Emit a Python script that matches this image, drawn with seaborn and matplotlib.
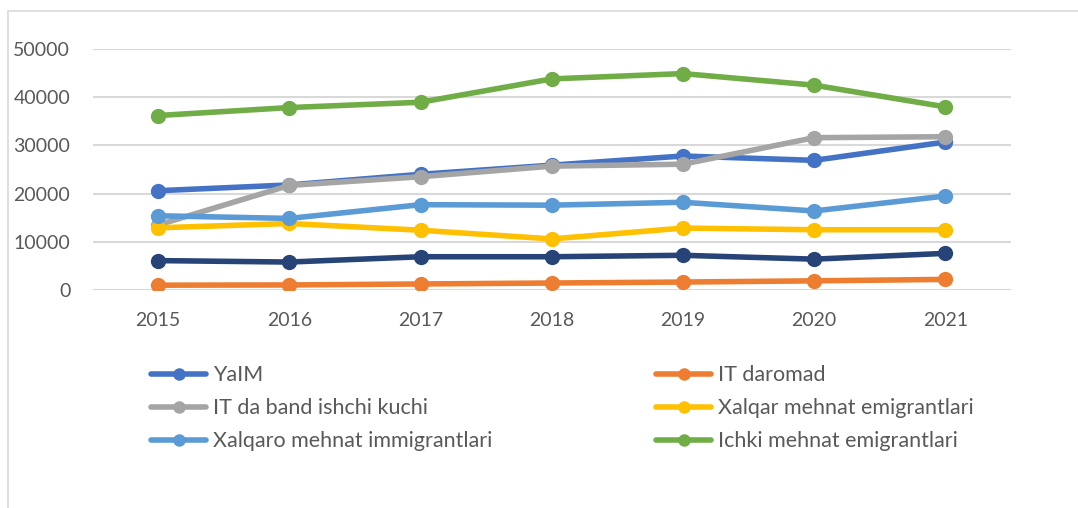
import pandas as pd
import seaborn as sns
import matplotlib.pyplot as plt
from matplotlib.patches import Rectangle

# values
years = [2015, 2016, 2017, 2018, 2019, 2020, 2021]
yalm = [20600, 21800, 24000, 25900, 27800, 26900, 30700]
it_daromad = [1000, 1050, 1250, 1450, 1650, 1900, 2200]
it_band = [13500, 21700, 23500, 25700, 26100, 31600, 31800]
xalqar_emig = [12900, 13800, 12400, 10600, 12850, 12500, 12500]
xalqaro_immig = [15400, 14850, 17700, 17600, 18200, 16400, 19500]
ichki_emig = [36200, 37850, 38950, 43800, 44900, 42500, 38000]
other = [6100, 5800, 6900, 6900, 7200, 6400, 7600]  # unlabeled dark series

series_names = ['YaIM', 'IT daromad', 'IT da band ishchi kuchi',
                'Xalqar mehnat emigrantlari', 'Xalqaro mehnat immigrantlari',
                'Ichki mehnat emigrantlari', '_other']
series_vals = [yalm, it_daromad, it_band, xalqar_emig, xalqaro_immig, ichki_emig, other]
colors = ['#4472C4', '#ED7D31', '#A5A5A5', '#FFC000', '#5B9BD5', '#70AD47', '#264478']

df = pd.DataFrame([
    {'year': y, 'value': v, 'series': name}
    for name, vals in zip(series_names, series_vals)
    for y, v in zip(years, vals)
])

sns.set_theme(style='white')
plt.rcParams['font.family'] = ['Lato', 'DejaVu Sans']

fig = plt.figure(figsize=(10.78, 5.08), dpi=100)
ax = fig.add_axes([92.5 / 1078, 1 - 290 / 508, (1011 - 92.5) / 1078, (290 - 49) / 508])

sns.lineplot(data=df, x='year', y='value', hue='series', hue_order=series_names,
             palette=colors, marker='o', markersize=11, markeredgewidth=0,
             linewidth=4, ax=ax, legend=False)

ax.set_xlim(2014.5, 2021.5)
ax.set_ylim(0, 50000)
ax.set_xticks(years)
ax.set_xticklabels([str(y) for y in years])
ax.set_yticks(range(0, 50001, 10000))
ax.set_xlabel('')
ax.set_ylabel('')
ax.grid(axis='y', color='#D9D9D9', linewidth=1.5)
ax.set_axisbelow(True)
for s in ax.spines.values():
    s.set_visible(False)
ax.tick_params(axis='both', length=0, labelsize=14, labelcolor='#595959')
ax.tick_params(axis='x', pad=16)
ax.tick_params(axis='y', pad=16)

# legend, filled row-wise like the original
order = [0, 2, 4, 1, 3, 5]
handles = [plt.Line2D([], [], color=colors[i], linewidth=4, marker='o',
                      markersize=9, markeredgewidth=0) for i in order]
labels = [series_names[i] for i in order]
fig.legend(handles, labels, ncol=2, loc='upper left',
           bbox_to_anchor=(132 / 1078, 1 - 346 / 508), frameon=False,
           fontsize=15.5, labelcolor='#595959', handlelength=2.55,
           handletextpad=0.33, labelspacing=0.6, columnspacing=7.6)

# outer chart frame
fig.add_artist(Rectangle((8 / 1078, -0.1), 1.2, 1.1 - 11 / 508,
                         transform=fig.transFigure, fill=False,
                         edgecolor='#D9D9D9', linewidth=1.2))

fig.savefig('out.png', dpi=100)
